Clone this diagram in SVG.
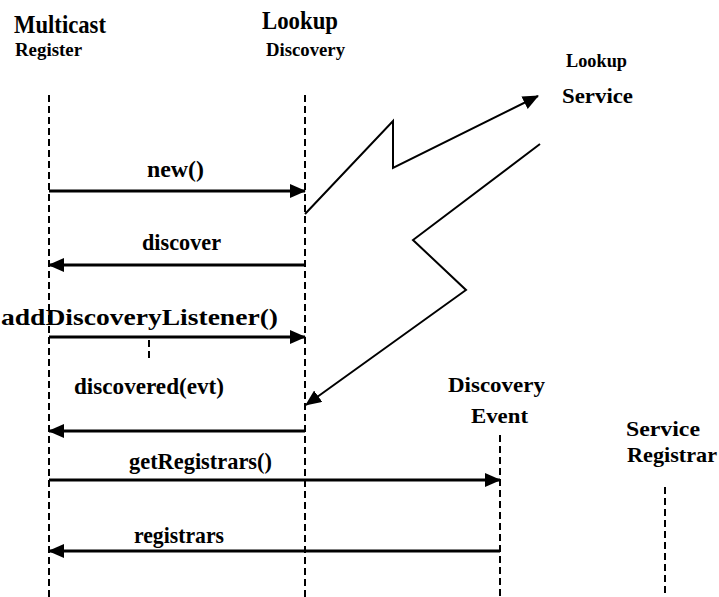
<svg xmlns="http://www.w3.org/2000/svg" width="719" height="597" viewBox="0 0 719 597">
  <defs>
    <marker id="head" viewBox="0 0 16 14" refX="15" refY="7" markerWidth="16" markerHeight="14" markerUnits="userSpaceOnUse" orient="auto">
      <path d="M0,0 L16,7 L0,14 Z" fill="#000"/>
    </marker>
  </defs>
  <style>
    text { font-family: "Liberation Serif", "DejaVu Serif", "Times New Roman", serif; font-weight: bold; fill: #000; }
    .big { font-size: 25px; }
    .small { font-size: 18px; }
    .mid { font-size: 22px; }
    .lbl { font-size: 23px; }
    .life { stroke: #000; stroke-width: 2; stroke-dasharray: 7 4; fill: none; }
    .msg { stroke: #000; stroke-width: 3; fill: none; marker-end: url(#head); }
    .bolt { stroke: #000; stroke-width: 2; fill: none; marker-end: url(#head); }
  </style>
  <rect width="719" height="597" fill="#fff"/>

  <g id="multicast-register">
    <text class="big" x="14" y="33" textLength="92" lengthAdjust="spacingAndGlyphs">Multicast</text>
    <text class="small" x="15" y="56" textLength="67" lengthAdjust="spacingAndGlyphs">Register</text>
    <line class="life" x1="49" y1="95" x2="49" y2="597"/>
  </g>

  <g id="lookup-discovery">
    <text class="big" x="262" y="29" textLength="76" lengthAdjust="spacingAndGlyphs">Lookup</text>
    <text class="small" x="266" y="56" textLength="79" lengthAdjust="spacingAndGlyphs">Discovery</text>
    <line class="life" x1="305" y1="95" x2="305" y2="597"/>
  </g>

  <g id="lookup-service">
    <text class="small" x="566" y="67" textLength="61" lengthAdjust="spacingAndGlyphs">Lookup</text>
    <text class="mid" x="562" y="103" textLength="71" lengthAdjust="spacingAndGlyphs">Service</text>
  </g>

  <g id="discovery-event">
    <text class="mid" x="448" y="392" textLength="97" lengthAdjust="spacingAndGlyphs">Discovery</text>
    <text class="mid" x="471" y="423" textLength="57" lengthAdjust="spacingAndGlyphs">Event</text>
    <line class="life" x1="500" y1="435" x2="500" y2="597"/>
  </g>

  <g id="service-registrar">
    <text class="mid" x="626" y="436" textLength="74" lengthAdjust="spacingAndGlyphs">Service</text>
    <text class="mid" x="627" y="462" textLength="90" lengthAdjust="spacingAndGlyphs">Registrar</text>
    <line class="life" x1="665" y1="487" x2="665" y2="597"/>
  </g>

  <g id="connectors">
    <line class="msg" x1="49" y1="191" x2="305" y2="191"/>
    <text class="lbl" x="147" y="177" textLength="57" lengthAdjust="spacingAndGlyphs">new()</text>

    <line class="msg" x1="305" y1="265" x2="49" y2="265"/>
    <text class="lbl" x="142" y="250" textLength="79" lengthAdjust="spacingAndGlyphs">discover</text>

    <line class="msg" x1="49" y1="337" x2="305" y2="337"/>
    <text class="lbl" x="1" y="325" textLength="277" lengthAdjust="spacingAndGlyphs">addDiscoveryListener()</text>
    <line class="life" x1="149" y1="340" x2="149" y2="362"/>

    <line class="msg" x1="305" y1="431" x2="49" y2="431"/>
    <text class="lbl" x="74" y="394" textLength="150" lengthAdjust="spacingAndGlyphs">discovered(evt)</text>

    <line class="msg" x1="49" y1="480" x2="500" y2="480"/>
    <text class="lbl" x="129" y="469" textLength="143" lengthAdjust="spacingAndGlyphs">getRegistrars()</text>

    <line class="msg" x1="500" y1="551" x2="49" y2="551"/>
    <text class="lbl" x="134" y="543" textLength="90" lengthAdjust="spacingAndGlyphs">registrars</text>

    <polyline class="bolt" points="305,214 393,121 393,168 538,96"/>
    <polyline class="bolt" points="540,144 413,240 466,290 306,405"/>
  </g>
</svg>
